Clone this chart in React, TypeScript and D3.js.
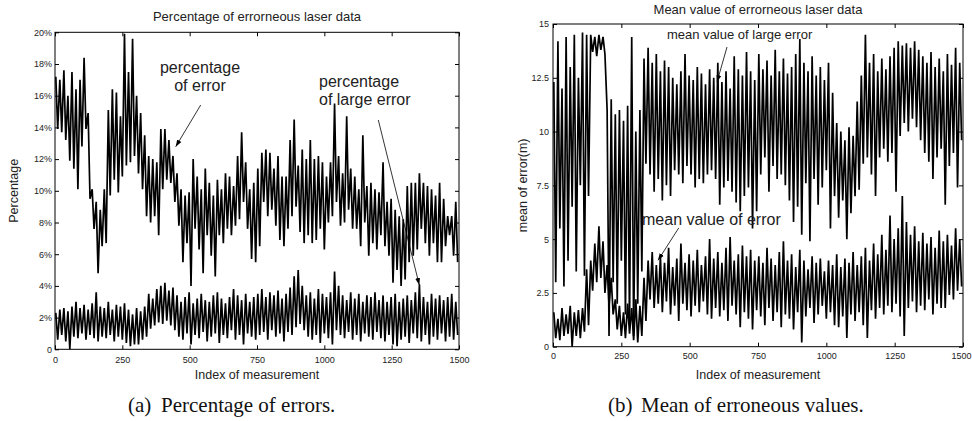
import React, { useEffect, useRef } from 'react';
import * as d3 from 'd3';

const BIN = 15;
const xTicks = [0, 250, 500, 750, 1000, 1250, 1500];
const pctTicks = [0, 2, 4, 6, 8, 10, 12, 14, 16, 18, 20];
const meanTicks = [0, 2.5, 5, 7.5, 10, 12.5, 15];

const pctErrHi = [
  17.2, 17.0, 17.6, 16.0, 17.5, 16.4, 17.0, 18.4, 14.9, 10.1,
  9.3, 8.8, 10.1, 15.1, 16.4, 16.2, 14.7, 19.9, 17.5, 19.6,
  16.0, 14.9, 13.5, 12.2, 12.0, 11.8, 13.9, 13.9, 13.2, 12.2,
  11.1, 10.1, 9.7, 9.9, 12.0, 10.9, 10.1, 11.4, 10.5, 9.7,
  10.7, 10.1, 11.1, 10.9, 10.3, 12.2, 13.7, 11.8, 10.1, 10.5,
  11.4, 12.4, 12.6, 12.4, 11.4, 12.2, 10.9, 10.9, 13.2, 14.5,
  11.6, 12.6, 12.0, 13.2, 12.0, 12.2, 11.8, 10.9, 11.8, 15.5,
  12.2, 11.1, 14.7, 11.4, 10.9, 10.1, 13.5, 10.3, 10.5, 10.1,
  9.9, 11.8, 9.3, 9.5, 8.8, 8.4, 8.2, 10.3, 10.5, 10.5,
  11.1, 10.5, 10.3, 10.1, 9.7, 10.5, 9.5, 8.4, 8.4, 9.3,
];
const pctErrLo = [
  13.9, 13.7, 13.2, 11.9, 11.4, 10.1, 12.8, 13.9, 9.5, 7.6,
  4.8, 6.5, 6.7, 9.7, 10.7, 9.9, 10.9, 11.6, 11.8, 12.2,
  11.1, 10.1, 8.4, 8.0, 8.4, 7.2, 10.1, 10.7, 10.5, 9.3,
  7.8, 5.5, 6.7, 4.0, 7.6, 6.3, 4.8, 7.2, 5.9, 4.6,
  7.2, 6.7, 7.6, 7.2, 7.8, 8.2, 9.3, 7.6, 5.7, 5.5,
  6.5, 9.3, 8.4, 8.8, 7.8, 6.9, 6.5, 7.6, 8.4, 9.0,
  7.4, 6.7, 7.2, 6.7, 6.9, 7.6, 6.3, 8.0, 8.4, 9.3,
  7.8, 8.0, 8.8, 7.6, 7.6, 6.5, 8.0, 5.9, 6.7, 6.3,
  7.2, 6.5, 5.9, 4.2, 5.0, 4.0, 4.4, 5.5, 5.9, 6.3,
  7.6, 6.7, 5.9, 6.7, 5.5, 5.5, 6.5, 7.2, 5.9, 5.5,
];
const pctLargeHi = [
  2.3, 2.5, 2.6, 2.4, 2.7, 3.0, 2.6, 2.8, 2.5, 2.9,
  3.6, 2.7, 2.6, 3.0, 2.5, 2.8, 2.7, 2.9, 2.5, 2.2,
  2.6, 2.4, 2.7, 3.5, 3.2, 3.8, 4.0, 4.2, 3.7, 3.9,
  3.4, 3.0, 3.3, 3.6, 2.9, 3.2, 3.5, 3.1, 3.0, 3.4,
  3.6, 3.2, 2.9, 3.3, 3.8, 3.4, 3.1, 3.5, 3.0, 3.3,
  3.5, 3.8, 3.3, 3.6, 3.4, 3.7, 3.2, 3.5, 3.9, 4.6,
  5.0, 4.0, 3.4, 3.6, 3.2, 3.8, 3.5, 3.3, 3.6, 4.9,
  4.0, 3.4, 3.1, 3.6, 3.2, 3.5, 3.0, 3.4, 3.3, 3.6,
  3.1, 3.4, 3.0, 3.3, 3.5, 3.0, 3.2, 3.4, 3.1, 3.6,
  4.1, 3.3, 3.0, 3.5, 3.2, 3.4, 3.1, 3.3, 3.5, 3.0,
];
const pctLargeLo = [
  0.6, 0.9, 0.5, 0.0, 0.8, 0.7, 1.0, 0.6, 0.9, 0.7,
  0.5, 0.8, 0.7, 0.9, 0.5, 0.8, 0.6, 0.4, 0.2, 0.3,
  0.3, 0.6, 0.8, 1.3, 1.5, 1.7, 1.6, 1.8, 1.5, 1.2,
  0.8, 0.6, 1.0, 0.3, 0.9, 0.7, 1.1, 0.5, 0.8, 1.0,
  0.4, 0.9, 0.7, 1.2, 0.6, 0.9, 0.3, 1.0, 0.8, 0.6,
  0.9, 1.1, 0.6, 1.2, 0.8, 1.0, 0.5, 1.1, 0.9, 1.4,
  1.6, 1.2, 0.8, 0.6, 0.9, 0.4, 1.0, 0.7, 0.3, 1.2,
  0.9, 0.7, 1.1, 0.6, 0.9, 0.5, 1.0, 0.8, 0.6, 1.1,
  0.7, 0.5, 0.9, 0.3, 0.2, 0.6, 0.8, 0.4, 1.0, 0.7,
  0.5, 0.9, 0.3, 0.8, 0.6, 1.0, 0.5, 0.8, 0.6, 0.9,
];
const meanLargeHi = [
  12.3, 14.2, 12.0, 14.4, 13.0, 14.5, 12.5, 14.6, 14.5, 14.5,
  14.4, 14.5, 14.4, 11.0, 11.5, 10.8, 11.0, 10.5, 11.2, 14.4,
  10.0, 11.0, 13.4, 13.9, 13.2, 13.6, 12.8, 13.3, 13.0, 12.5,
  12.2, 12.8, 13.6, 12.6, 12.4, 13.0, 12.7, 12.2, 12.9, 12.5,
  13.2, 12.3, 12.8, 12.0, 13.5, 12.9, 12.6, 13.7, 12.8, 12.4,
  13.6, 12.9, 13.3, 12.6, 13.8, 12.8, 13.4, 12.7, 13.0, 13.6,
  14.3, 13.2, 12.8, 13.5, 12.6, 13.0, 12.4, 13.2, 11.8, 10.4,
  10.0, 9.6, 10.2, 9.8, 11.4, 12.6, 14.5, 13.2, 13.6, 12.8,
  13.4, 12.9, 13.5, 13.9, 14.2, 14.0, 14.1, 13.9, 14.2, 13.8,
  13.5, 13.2, 13.7, 13.0, 13.4, 12.8, 13.6, 13.1, 13.9, 13.2,
];
const meanLargeLo = [
  3.0, 5.5, 2.8, 4.0, 6.5, 3.5, 7.5, 3.3, 7.0, 13.7,
  13.5, 13.8, 13.6, 0.5, 3.0, 2.0, 4.0, 1.5, 1.0, 0.5,
  2.0, 3.5, 8.5, 8.0, 7.2, 7.8, 6.8, 7.5, 7.0, 8.2,
  8.0, 7.6, 8.4, 8.0, 7.4, 7.8, 7.6, 8.0, 8.2, 7.8,
  6.6, 7.4, 7.7, 7.2, 6.7, 6.3, 7.0, 7.4, 5.5, 6.3,
  8.0, 8.8, 7.2, 8.4, 7.8, 8.0, 7.5, 6.8, 5.8, 6.5,
  5.2, 7.6, 4.9, 7.8, 6.6, 7.4, 8.2, 5.5, 7.0, 6.0,
  6.8, 5.0, 6.2, 7.0, 7.3, 8.5, 8.8, 8.0, 7.0, 8.8,
  9.2, 8.6, 9.0, 7.2, 9.8, 10.4, 10.0, 10.6, 10.2, 9.6,
  9.0, 8.6, 7.8, 8.8, 9.2, 6.6, 8.4, 9.0, 7.4, 9.6,
];
const meanErrHi = [
  1.6, 1.3, 1.8, 1.5, 1.9, 1.6, 1.7, 1.8, 3.6, 4.0,
  4.8, 5.6, 4.9, 3.8, 3.2, 2.2, 1.9, 1.6, 2.0, 1.8,
  2.2, 1.9, 3.2, 4.0, 4.4, 3.8, 4.2, 3.9, 4.6, 3.7,
  4.1, 4.8, 3.9, 4.3, 4.0, 4.5, 3.8, 4.2, 5.0, 4.1,
  4.4, 3.9, 4.6, 5.1, 4.0, 4.3, 4.7, 4.2, 4.5, 4.0,
  4.2, 3.9, 4.6, 4.1, 3.8, 4.4, 4.9, 4.0, 4.3, 3.7,
  4.5, 4.0, 3.6, 4.2, 3.9, 4.1, 3.5, 4.0, 3.8, 4.3,
  3.7, 4.1, 3.9, 4.4, 3.8, 4.2, 4.6, 4.0, 4.8, 4.3,
  5.2, 4.5, 6.1, 5.0, 5.5, 7.0, 5.8, 5.2, 5.6, 4.9,
  5.3, 4.8, 5.1, 4.6, 5.4, 4.9, 5.2, 4.7, 5.5, 5.0,
];
const meanErrLo = [
  0.4, 0.3, 0.5, 0.6, 0.0, 0.5, 0.4, 0.7, 1.0, 2.6,
  3.0, 3.2, 2.5, 1.9, 1.5, 0.8, 0.5, 0.4, 0.6, 0.3,
  0.2, 0.5, 1.2, 2.2, 1.8, 2.0, 1.6, 2.1, 1.5, 1.9,
  1.2, 2.0, 1.7, 1.4, 1.9, 1.6, 2.1, 1.5, 1.3, 1.8,
  1.4, 1.7, 1.2, 1.9, 1.5, 0.9, 1.6, 1.3, 0.8, 1.7,
  1.4, 1.0, 1.8, 1.2, 1.6, 0.9, 1.5, 1.3, 0.8, 1.6,
  0.2, 1.4, 1.8, 1.1, 1.5, 1.9, 1.3, 1.6, 1.0, 0.9,
  1.4, 0.4, 1.5, 1.2, 1.6, 1.0, 0.4, 1.7, 1.3, 1.8,
  1.5, 1.9, 1.6, 2.0, 1.4, 0.5, 1.8, 2.1, 1.6, 1.9,
  1.7, 2.2, 1.5, 2.0, 1.8, 1.8, 2.4, 2.2, 2.6, 2.8,
];

const SANS = "'Liberation Sans', Arial, Helvetica, sans-serif";
const SERIF = "'Liberation Serif', 'Times New Roman', serif";

// high then low inside every bin
const toPoints = (hi: number[], lo: number[]) =>
  hi.flatMap((h, k) => [[k * BIN + 3, h], [k * BIN + 10, lo[k]]] as [number, number][]);

const drawPanel = (svg: any, p: any) => {
  const x = d3.scaleLinear().domain([0, 1500]).range([p.x0, p.x1]);
  const y = d3.scaleLinear().domain([0, p.yMax]).range([p.yBot, p.yTop]);
  const g = svg.append('g');

  const line = d3.line<[number, number]>().x(d => x(d[0])).y(d => y(d[1]));
  p.series.forEach(([hi, lo]: number[][]) => {
    g.append('path')
      .attr('d', line(toPoints(hi, lo)))
      .attr('fill', 'none')
      .attr('stroke', '#000')
      .attr('stroke-width', 1.7)
      .attr('stroke-linejoin', 'bevel');
  });

  const style = (a: any) => {
    a.select('.domain').remove();
    a.attr('font-family', SANS).attr('font-size', 9);
    a.selectAll('line').attr('stroke', '#000');
    a.selectAll('text').attr('fill', '#222');
  };

  g.append('g')
    .attr('transform', `translate(0,${p.yBot})`)
    .call(d3.axisBottom(x).tickValues(xTicks).tickSize(-4).tickPadding(p.xPad).tickFormat(d3.format('d')))
    .call(style)
    .call((a: any) => a.selectAll('text').filter((d: number) => d === 1500).attr('dx', p.lastDx));
  g.append('g')
    .attr('transform', `translate(0,${p.yTop})`)
    .call(d3.axisTop(x).tickValues(xTicks).tickSize(-4).tickFormat(() => ''))
    .call(style);
  g.append('g')
    .attr('transform', `translate(${p.x0},0)`)
    .call(d3.axisLeft(y).tickValues(p.yTicks).tickSize(-4).tickPadding(p.yPad).tickFormat(p.yFmt))
    .call(style);
  g.append('g')
    .attr('transform', `translate(${p.x1},0)`)
    .call(d3.axisRight(y).tickValues(p.yTicks).tickSize(-4).tickFormat(() => ''))
    .call(style);

  g.append('rect')
    .attr('x', p.x0).attr('y', p.yTop)
    .attr('width', p.x1 - p.x0).attr('height', p.yBot - p.yTop)
    .attr('fill', 'none').attr('stroke', '#000').attr('stroke-width', 1);

  const cx = (p.x0 + p.x1) / 2;
  g.append('text').attr('x', cx).attr('y', p.titleY).attr('text-anchor', 'middle')
    .attr('font-family', SANS).attr('font-size', 13).attr('fill', '#222').text(p.title);
  g.append('text').attr('x', cx).attr('y', 379).attr('text-anchor', 'middle')
    .attr('font-family', SANS).attr('font-size', 12.5).attr('fill', '#222').text('Index of measurement');
  g.append('text')
    .attr('transform', `translate(${p.yLabelX},${(p.yTop + p.yBot) / 2}) rotate(-90)`)
    .attr('text-anchor', 'middle')
    .attr('font-family', SANS).attr('font-size', 12.5).attr('fill', '#222').text(p.yLabel);

  g.append('text').attr('x', p.capX).attr('y', 412)
    .attr('font-family', SERIF).attr('font-size', 21).attr('fill', '#111').text(p.capTag);
  g.append('text').attr('x', p.capX + 33).attr('y', 412)
    .attr('font-family', SERIF).attr('font-size', 21).attr('fill', '#111').text(p.caption);

  p.notes.forEach((n: any) => {
    n.lines.forEach((t: string, i: number) => {
      g.append('text').attr('x', n.x).attr('y', n.y + i * n.gap)
        .attr('text-anchor', n.anchor).attr('font-family', SANS).attr('font-size', n.size)
        .attr('fill', '#222').text(t);
    });
    g.append('line')
      .attr('x1', n.arrow[0]).attr('y1', n.arrow[1]).attr('x2', n.arrow[2]).attr('y2', n.arrow[3])
      .attr('stroke', '#000').attr('stroke-width', 0.8).attr('marker-end', 'url(#arrowHead)');
  });
};

export default function App() {
  const ref = useRef<SVGSVGElement>(null);

  useEffect(() => {
    const svg = d3.select(ref.current);
    svg.selectAll('*').remove();
    svg.append('defs').append('marker')
      .attr('id', 'arrowHead')
      .attr('viewBox', '0 0 10 10')
      .attr('refX', 10).attr('refY', 5)
      .attr('markerUnits', 'userSpaceOnUse')
      .attr('markerWidth', 7).attr('markerHeight', 7)
      .attr('orient', 'auto')
      .append('path').attr('d', 'M0,1.5 L10,5 L0,8.5 Z').attr('fill', '#000');

    drawPanel(svg, {
      x0: 55, x1: 459, yTop: 32.3, yBot: 349.3, yMax: 20,
      yTicks: pctTicks, yFmt: (d: number) => (d === 0 ? '0' : `${d}%`),
      xPad: 7, yPad: 3, lastDx: 0,
      series: [[pctErrHi, pctErrLo], [pctLargeHi, pctLargeLo]],
      title: 'Percentage of errorneous laser data', titleY: 21,
      yLabel: 'Percentage', yLabelX: 18,
      capX: 128, capTag: '(a)', caption: 'Percentage of errors.',
      notes: [
        { lines: ['percentage', 'of error'], x: 200, y: 73, gap: 18, anchor: 'middle', size: 16, arrow: [200.7, 105, 175.7, 146.7] },
        { lines: ['percentage', 'of large error'], x: 319, y: 87, gap: 18, anchor: 'start', size: 16, arrow: [378.3, 120, 419.3, 285] },
      ],
    });

    drawPanel(svg, {
      x0: 553, x1: 963, yTop: 24, yBot: 346.7, yMax: 15,
      yTicks: meanTicks, yFmt: (d: number) => `${d}`,
      xPad: 5.5, yPad: 4, lastDx: -2,
      series: [[meanLargeHi, meanLargeLo], [meanErrHi, meanErrLo]],
      title: 'Mean value of errorneous laser data', titleY: 14,
      yLabel: 'mean of error(m)', yLabelX: 527,
      capX: 608, capTag: '(b)', caption: 'Mean of erroneous values.',
      notes: [
        { lines: ['mean value of large error'], x: 667, y: 38.5, gap: 0, anchor: 'start', size: 13, arrow: [727, 47, 717, 82] },
        { lines: ['mean value of error'], x: 642, y: 225, gap: 0, anchor: 'start', size: 16, arrow: [678.7, 228, 658, 260.3] },
      ],
    });
  }, []);

  return (
    <div style={{ position: 'absolute', left: 0, top: 0, background: '#fff' }}>
      <svg ref={ref} width={972} height={421} />
    </div>
  );
}
